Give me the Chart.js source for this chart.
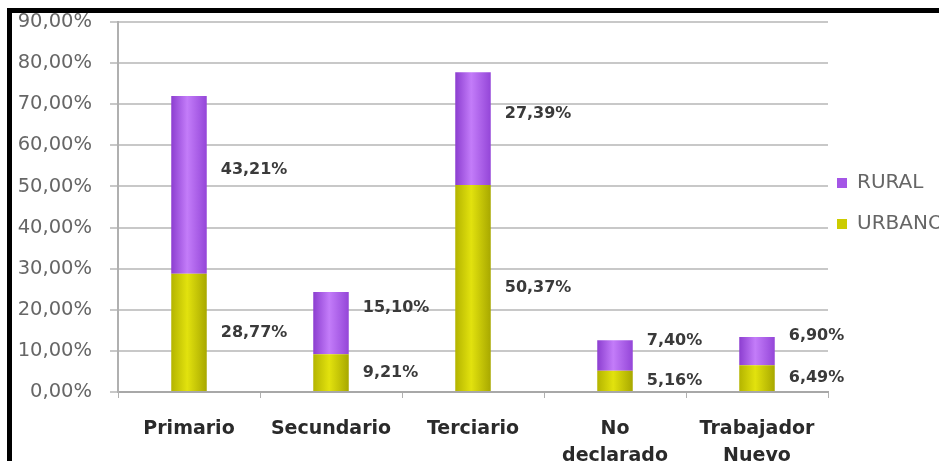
<!DOCTYPE html>
<html>
<head>
<meta charset="utf-8">
<script src="https://cdn.jsdelivr.net/npm/chart.js@4.4.1/dist/chart.umd.min.js"></script>
<style>
  body { margin: 0; background: #fff; overflow: hidden; }
  #wrap { position: relative; width: 939px; height: 461px; }
  #frame { position: absolute; left: 7px; top: 8px; right: 0; bottom: 0;
           border-top: 5px solid #000; border-left: 5px solid #000; pointer-events: none; }
</style>
</head>
<body>
<div id="wrap">
  <canvas id="grafico" width="939" height="461"></canvas>
  <div id="frame"></div>
</div>
<script>
// categorias y valores (%)
var categorias = [["Primario"], ["Secundario"], ["Terciario"], ["No", "declarado"], ["Trabajador", "Nuevo"]];
var urbano = [28.77, 9.21, 50.37, 5.16, 6.49];
var rural = [43.21, 15.10, 27.39, 7.40, 6.90];
var ticksY = [0, 10, 20, 30, 40, 50, 60, 70, 80, 90];

function fmt(v) {
    return v.toFixed(2).replace(".", ",") + "%";
}

// degradado horizontal tipo cilindro
function cilindro(c1, c2, c3) {
    return function (ctx) {
        var chart = ctx.chart;
        var xs = chart.scales.x;
        if (!xs || ctx.dataIndex === undefined) return c2;
        var cx = xs.getPixelForValue(ctx.dataIndex);
        var w = (xs.width / categorias.length) * 0.25;
        if (!isFinite(cx) || !isFinite(w) || w <= 0) return c2;
        var g = chart.ctx.createLinearGradient(cx - w / 2, 0, cx + w / 2, 0);
        g.addColorStop(0, c1);
        g.addColorStop(0.45, c2);
        g.addColorStop(1, c3);
        return g;
    };
}

// etiquetas de valor a la derecha de cada segmento (las de RURAL algo más arriba)
var etiquetas = {
    id: "etiquetas",
    afterDatasetsDraw: function (chart) {
        var ctx = chart.ctx;
        ctx.save();
        ctx.font = "bold 16px 'DejaVu Sans'";
        ctx.fillStyle = "#3a3a3a";
        ctx.textBaseline = "middle";
        ctx.textAlign = "left";
        chart.data.datasets.forEach(function (ds, di) {
            var meta = chart.getDatasetMeta(di);
            var sube = di == 1 ? 15 : 0;
            meta.data.forEach(function (bar, i) {
                var yc = (bar.y + bar.base) / 2 - sube;
                ctx.fillText(fmt(ds.data[i]), bar.x + bar.width / 2 + 14, yc);
            });
        });
        ctx.restore();
    }
};

var leyenda = {
    id: "leyenda",
    afterDraw: function (chart) {
        var ctx = chart.ctx;
        var a = chart.chartArea;
        var items = [
            { t: "RURAL", c: "#a456e6" },
            { t: "URBANO", c: "#cccc00" }
        ];
        var y0 = (a.top + a.bottom) / 2 - 24;
        ctx.save();
        ctx.font = "20px 'DejaVu Sans'";
        ctx.textBaseline = "middle";
        items.forEach(function (it, k) {
            var y = y0 + k * 41;
            ctx.fillStyle = it.c;
            ctx.fillRect(a.right + 9, y - 5, 10, 10);
            ctx.fillStyle = "#666";
            ctx.fillText(it.t, a.right + 29, y);
        });
        ctx.restore();
    }
};

new Chart(document.getElementById("grafico"), {
    type: "bar",
    data: {
        labels: categorias,
        datasets: [
            {
                label: "URBANO",
                data: urbano,
                backgroundColor: cilindro("#b4b400", "#e2e20e", "#a8a800"),
                categoryPercentage: 1,
                barPercentage: 0.25
            },
            {
                label: "RURAL",
                data: rural,
                backgroundColor: cilindro("#8c3ed0", "#c37cf9", "#9446d8"),
                categoryPercentage: 1,
                barPercentage: 0.25
            }
        ]
    },
    options: {
        responsive: false,
        animation: false,
        layout: { padding: { top: 22, right: 111, left: 0, bottom: 0 } },
        plugins: {
            legend: { display: false },
            tooltip: { enabled: false }
        },
        scales: {
            x: {
                stacked: true,
                grid: { offset: true, drawOnChartArea: false, tickLength: 6, color: "#b0b0b0", lineWidth: 1 },
                border: { color: "#a8a8a8", width: 2 },
                ticks: {
                    color: "#2a2a2a",
                    font: { family: "'DejaVu Sans'", size: 19, weight: "bold", lineHeight: 1.42 },
                    padding: 18,
                    maxRotation: 0,
                    autoSkip: false
                },
                afterFit: function (s) { s.height = 461 - 392; }
            },
            y: {
                stacked: true,
                min: 0,
                max: 90,
                afterBuildTicks: function (s) {
                    s.ticks = ticksY.map(function (v) { return { value: v }; });
                },
                grid: { color: "#c8c8c8", lineWidth: 2, tickLength: 8 },
                border: { color: "#b0b0b0", width: 2 },
                ticks: {
                    color: "#666",
                    font: { family: "'DejaVu Sans'", size: 19.5 },
                    padding: 18,
                    callback: function (v) { return fmt(v); }
                },
                afterFit: function (s) { s.width = 118; s.paddingTop = 0; s.paddingBottom = 0; }
            }
        }
    },
    plugins: [etiquetas, leyenda]
});
</script>
</body>
</html>
